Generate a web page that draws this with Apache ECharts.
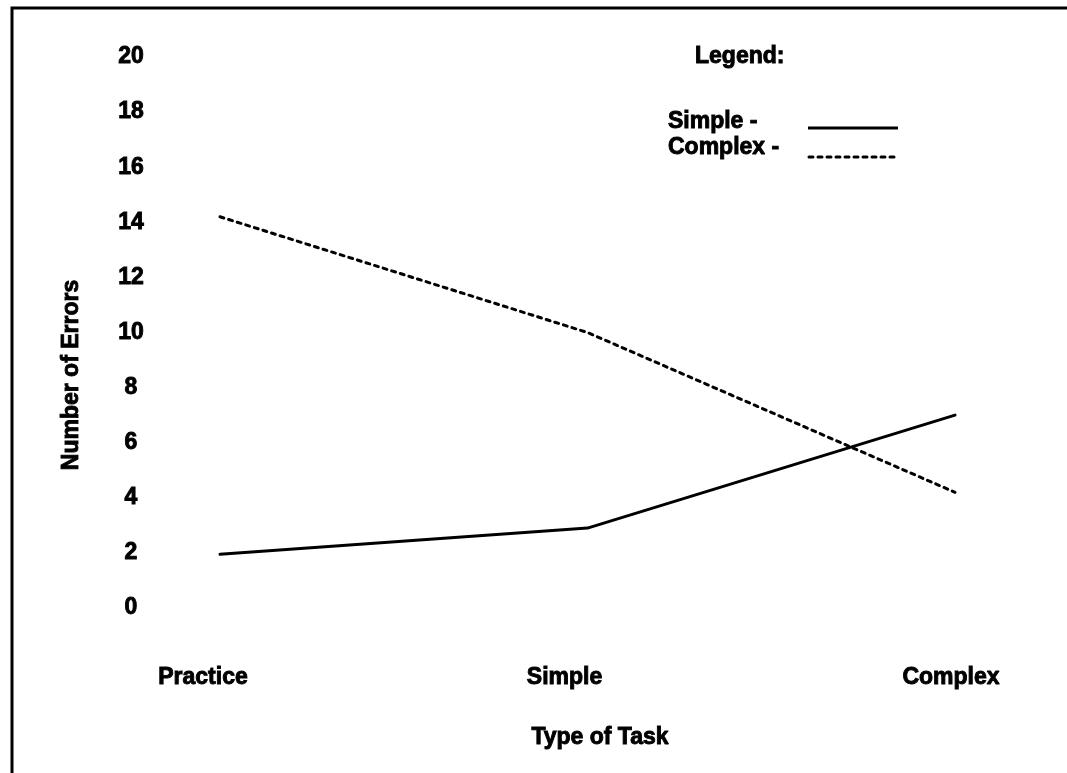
<!DOCTYPE html>
<html>
<head>
<meta charset="utf-8">
<script src="https://cdn.jsdelivr.net/npm/echarts@6/dist/echarts.min.js"></script>
<style>
  html, body { margin: 0; padding: 0; background: #fff; }
  #chart { width: 1067px; height: 773px; }
</style>
</head>
<body>
<div id="chart"></div>
<script>
// Task types along the x axis
const categories = ['Practice', 'Simple', 'Complex'];
// Mean number of errors for each group
const simpleErrors = [1.95, 2.9, 7.0];
const complexErrors = [14.2, 10.0, 4.2];
// Y axis range
const yMin = 0, yMax = 20, yStep = 2;

const FONT = '"Liberation Sans", Arial, Helvetica, sans-serif';
const textStyle = {
  fontFamily: FONT, fontWeight: 'bold', fontSize: 23, color: '#000',
  textBorderColor: '#000', textBorderWidth: 0.9
};
// category labels sit a little left of their points
const labelShift = { Practice: 34, Simple: 46, Complex: 8 };

const chart = echarts.init(document.getElementById('chart'), null, { renderer: 'canvas' });

const gText = (text, x, y, extra) => ({
  type: 'text', x, y, ...(extra || {}),
  style: { text, font: 'bold 23px ' + FONT, fill: '#000', stroke: '#000', lineWidth: 0.9,
           align: (extra && extra.align) || 'left', verticalAlign: 'middle' }
});

chart.setOption({
  animation: false,
  backgroundColor: '#fff',
  grid: { left: 220, right: 112, top: 57, bottom: 165, containLabel: false },
  xAxis: {
    type: 'category',
    data: categories,
    boundaryGap: false,
    axisLine: { show: false },
    axisTick: { show: false },
    splitLine: { show: false },
    axisLabel: {
      ...textStyle, margin: 58, verticalAlign: 'top', interval: 0,
      formatter: v => '{' + v + '|' + v + '}',
      rich: Object.fromEntries(categories.map(c => [c, {
        ...textStyle, padding: [0, labelShift[c] || 0, 0, 0]
      }]))
    }
  },
  yAxis: {
    type: 'value',
    min: yMin, max: yMax, interval: yStep,
    axisLine: { show: false },
    axisTick: { show: false },
    splitLine: { show: false },
    axisLabel: { ...textStyle, margin: 89, align: 'center' }
  },
  series: [
    {
      name: 'Simple',
      type: 'line',
      data: simpleErrors,
      symbol: 'none',
      lineStyle: { color: '#000', width: 3, cap: 'round' }
    },
    {
      name: 'Complex',
      type: 'line',
      data: complexErrors,
      symbol: 'none',
      lineStyle: { color: '#000', width: 3, type: [4, 5], cap: 'round' }
    }
  ],
  graphic: [
    // frame: left and top edges
    { type: 'polyline', shape: { points: [[12, 773], [12, 8], [1067, 8]] },
      style: { stroke: '#000', lineWidth: 3, fill: null } },
    // axis titles
    gText('Number of Errors', 72, 375, { rotation: Math.PI / 2, align: 'center' }),
    gText('Type of Task', 600, 738, { align: 'center' }),
    // legend block
    gText('Legend:', 695, 57),
    gText('Simple -', 668, 122),
    gText('Complex -', 668, 148),
    { type: 'line', shape: { x1: 808, y1: 128, x2: 898, y2: 128 },
      style: { stroke: '#000', lineWidth: 3 } },
    { type: 'line', shape: { x1: 809, y1: 157, x2: 895, y2: 157 },
      style: { stroke: '#000', lineWidth: 3, lineDash: [4, 5], lineCap: 'round' } }
  ]
});
</script>
</body>
</html>
